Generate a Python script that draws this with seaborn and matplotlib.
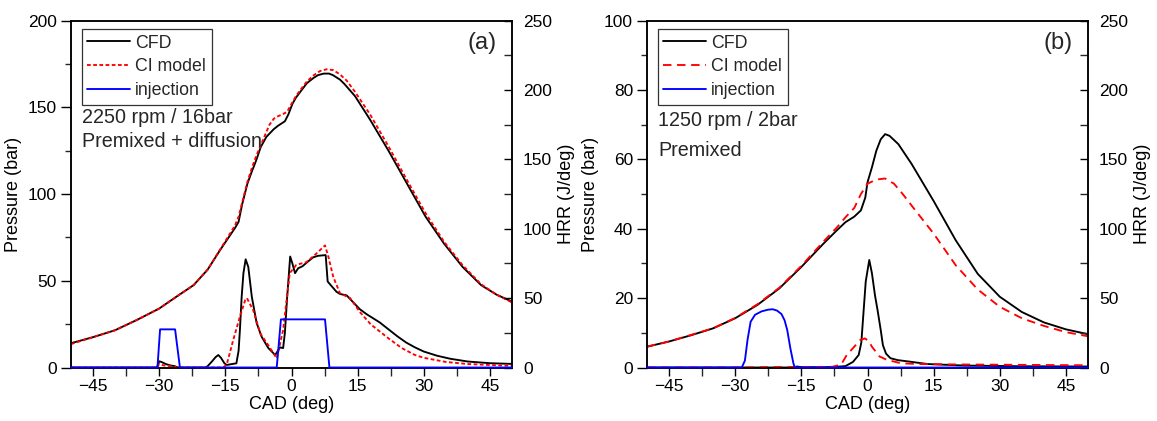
import matplotlib
matplotlib.use("Agg")
import matplotlib.pyplot as plt
import seaborn as sns
from matplotlib.ticker import MultipleLocator
from matplotlib.lines import Line2D

# ---------------- data: panel (a) 2250 rpm / 16 bar ----------------
a_p_cfd_x = [-50, -45, -40, -35, -30, -26, -22.2, -19, -16.2, -14, -12.8, -12, -11.2, -10, -9, -8, -7, -5.7,
             -4, -3, -1.5, -0.7, 0.2, 1, 2, 3.5, 5, 6, 7.3, 8.5, 9.4, 11, 12, 14.4, 17.8, 22, 26.2, 30.4,
             34.6, 38.8, 43, 46.5, 50]
a_p_cfd_y = [14, 17.5, 21.5, 27.5, 34, 41, 47.5, 56.5, 67.7, 76, 80.5, 84, 94, 106, 113, 119.5, 127, 133,
             137.5, 139.5, 142, 146, 152, 155.6, 159, 164, 167, 168.6, 169.5, 169.5, 168.6, 166, 163.5, 156.5,
             143, 125, 106, 87, 71.4, 58, 47.5, 42, 38]
a_p_ci_x = [-50, -45, -40, -35, -30, -26, -22.2, -19, -16.2, -14, -12.8, -12, -11, -10, -9, -8, -7, -6, -5,
            -4, -3, -2, -1, 0, 1, 2, 3.5, 5, 6.5, 8, 9.5, 11, 12.5, 14.4, 17.8, 22, 26.2, 30.4, 34.6, 38.8,
            43, 46.5, 50]
a_p_ci_y = [13.5, 17.5, 21.5, 27.5, 34, 41, 47.5, 56.5, 68, 77, 82, 87, 97, 107, 115, 122, 128, 134, 140,
            143.5, 145, 146, 147.5, 152, 156.5, 160, 165, 168.5, 171, 172, 171.5, 169, 165.5, 159, 146,
            127.5, 108, 89, 72.5, 59, 48, 42, 37.5]
a_h_cfd_x = [-50, -30.5, -30, -29.5, -28.5, -27.5, -26.5, -26, -25.5, -19.5, -19, -18, -17.2, -16.6, -16,
             -15.2, -14.7, -13.5, -12.5, -12, -11.7, -11.3, -10.9, -10.4, -9.8, -9, -7.9, -6.75, -5.25,
             -3.7, -2.6, -1.9, -1.5, -1, -0.3, 0.2, 0.8, 1.5, 2.5, 3.4, 4.9, 6, 7.6, 7.75, 8.2, 9, 10.2,
             11, 12.5, 14, 15.5, 17, 18.5, 20, 22, 24, 26, 28, 30, 33, 36, 40, 45, 50]
a_h_cfd_y = [0, 0, 4.5, 4, 2.5, 1.5, 1, 0.3, 0, 0, 1, 4.5, 7.5, 9, 7, 3, 1.8, 2.5, 3, 12, 27, 51, 68, 78,
             72.5, 51, 32, 22, 14, 9, 14.5, 14, 25, 50, 80, 75, 68, 71.5, 73, 75.5, 79.4, 80.5, 81, 81, 62,
             59, 54.6, 53, 52, 47, 42, 38.5, 35.5, 32.5, 27.5, 22.5, 18, 14.5, 11.5, 8.5, 6.3, 4.3, 3.1, 2.6]
a_h_ci_x = [-50, -30.5, -30, -29, -27.5, -26.5, -26, -15.5, -14.7, -13.2, -11.7, -10.5, -10.1, -8.65, -7.1,
            -5.25, -3.35, -1.9, -0.4, 1.1, 3.4, 5.6, 7.6, 8.35, 9.5, 11, 13.3, 15.5, 18, 20, 22, 25, 28,
            30, 35, 40, 45, 50]
a_h_ci_y = [0, 0, 2.5, 1.5, 1, 0.5, 0, 0, 2, 20, 36.6, 48.6, 50, 41, 24.6, 16, 6.6, 27, 68, 74, 76, 82, 88,
            80, 65, 53.5, 50, 40, 31, 26, 21, 14, 9, 7, 4, 2.5, 1.8, 1.2]
a_inj_x = [-50, -30.4, -29.8, -26.4, -25.3, -3.35, -2.4, 7.6, 8.6, 50]
a_inj_y = [0, 0, 27.5, 27.5, 0, 0, 34.7, 34.7, 0, 0]

# ---------------- data: panel (b) 1250 rpm / 2 bar ----------------
b_p_cfd_x = [-50, -45, -40, -35, -30, -25, -20, -15, -10, -7, -5, -3, -1.5, -0.5, 0, 1, 2, 3, 4, 5, 7, 10,
             15, 20, 25, 30, 35, 40, 45, 50]
b_p_cfd_y = [6, 7.5, 9.3, 11.3, 14.2, 18, 22.8, 29, 35.7, 39.5, 41.9, 43.5, 45.3, 49, 53.4, 57.7, 62.5,
             65.8, 67.3, 66.8, 64.4, 58.7, 48, 36.7, 27, 20.4, 16, 13, 11, 9.6]
b_p_ci_x = [-50, -45, -40, -35, -30, -25, -20, -15, -10, -7, -5, -3, -1.5, 0, 2, 4, 6, 8, 10, 15, 20, 25,
            30, 35, 40, 45, 50]
b_p_ci_y = [6, 7.5, 9.4, 11.3, 14.3, 18.2, 23, 29.3, 36.3, 40.3, 43.3, 46, 50, 53, 54.2, 54.5, 53, 50,
            46.7, 38.6, 29.5, 22.5, 17.5, 14.2, 12, 10.2, 9]
b_h_cfd_x = [-50, -17, -16, -15, -10, -7, -5, -3.3, -2, -1.4, -0.9, -0.4, 0.4, 1, 1.7, 2.3, 3, 3.5, 4.2,
             5.2, 6.9, 9.4, 13.6, 22, 35, 50]
b_h_cfd_y = [0, 0, 0.7, 0.3, 0.2, 0.5, 1, 4, 9, 18, 40, 62, 77.5, 68, 52, 41, 27, 16, 10, 6.7, 5.3, 4.3,
             2.5, 1.4, 0.9, 0.7]
b_h_ci_x = [-50, -28, -22, -15, -8, -6, -4.7, -3, -1.7, -0.6, 0.3, 1, 2.7, 4.4, 7.7, 12, 20, 30, 40, 50]
b_h_ci_y = [0, 0, 0.3, 0.3, 0.5, 2, 9, 15, 19.7, 21, 19, 15, 8, 5.5, 3, 2.5, 2.2, 2, 1.8, 1.6]
b_inj_x = [-50, -28.5, -27.8, -27.2, -26.5, -25.5, -24, -22.5, -21.5, -20.5, -19.5, -18.8, -18.2, -17.5,
           -16.8, -16.5, 50]
b_inj_y = [0, 0, 5, 20, 33, 38, 40.5, 41.7, 42, 41, 38.5, 34, 27, 14, 3, 0, 0]

x_ticks = [-45, -30, -15, 0, 15, 30, 45]
legend_labels = ["CFD", "CI model", "injection"]

# ---------------- style ----------------
sns.set_theme(style="white")
plt.rcParams["font.family"] = ["Liberation Sans", "DejaVu Sans"]
plt.rcParams["axes.edgecolor"] = "black"
plt.rcParams["axes.linewidth"] = 1.1

FS = 12.5
FT = 14.2
fig = plt.figure(figsize=(11.57, 4.21), dpi=100)

W = 441 / 1157
B = (421 - 367.5) / 421
H = (367.5 - 20.7) / 421
panels = [
    dict(left=71 / 1157, ymax=200, ymaj=50, ymin_=25,
         p_cfd=(a_p_cfd_x, a_p_cfd_y), p_ci=(a_p_ci_x, a_p_ci_y),
         h_cfd=(a_h_cfd_x, a_h_cfd_y), h_ci=(a_h_ci_x, a_h_ci_y), inj=(a_inj_x, a_inj_y),
         ci_ls=(0, (2.0, 1.3)), tag="(a)", t1="2250 rpm / 16bar", t2="Premixed + diffusion",
         y1=0.722, y2=0.651),
    dict(left=647 / 1157, ymax=100, ymaj=20, ymin_=10,
         p_cfd=(b_p_cfd_x, b_p_cfd_y), p_ci=(b_p_ci_x, b_p_ci_y),
         h_cfd=(b_h_cfd_x, b_h_cfd_y), h_ci=(b_h_ci_x, b_h_ci_y), inj=(b_inj_x, b_inj_y),
         ci_ls=(0, (4.5, 3.0)), tag="(b)", t1="1250 rpm / 2bar", t2="Premixed",
         y1=0.713, y2=0.625),
]

LW = 1.35
for P in panels:
    ax = fig.add_axes([P["left"], B, W, H])
    ax2 = ax.twinx()
    sns.lineplot(x=P["p_cfd"][0], y=P["p_cfd"][1], ax=ax, color="black", lw=LW, estimator=None, sort=False)
    sns.lineplot(x=P["p_ci"][0], y=P["p_ci"][1], ax=ax, color="#ff0000", lw=LW, linestyle=P["ci_ls"],
                 estimator=None, sort=False)
    sns.lineplot(x=P["h_cfd"][0], y=P["h_cfd"][1], ax=ax2, color="black", lw=LW, estimator=None, sort=False)
    sns.lineplot(x=P["h_ci"][0], y=P["h_ci"][1], ax=ax2, color="#ff0000", lw=LW, linestyle=P["ci_ls"],
                 estimator=None, sort=False)
    sns.lineplot(x=P["inj"][0], y=P["inj"][1], ax=ax2, color="#0000ff", lw=LW, estimator=None, sort=False,
                 clip_on=False, zorder=5)

    ax.set_xlim(-50, 50)
    ax.set_ylim(0, P["ymax"])
    ax2.set_ylim(0, 250)
    ax.set_xticks(x_ticks)
    ax.xaxis.set_minor_locator(MultipleLocator(7.5))
    ax.yaxis.set_major_locator(MultipleLocator(P["ymaj"]))
    ax.yaxis.set_minor_locator(MultipleLocator(P["ymin_"]))
    ax2.yaxis.set_major_locator(MultipleLocator(50))
    ax2.yaxis.set_minor_locator(MultipleLocator(25))

    ax.tick_params(axis="x", which="major", direction="out", length=5.5, width=1.0, labelsize=FS, pad=3,
                   bottom=True, top=False, colors="black")
    ax.tick_params(axis="x", which="minor", direction="out", length=5.5, width=1.0, bottom=True, top=False)
    ax.tick_params(axis="y", which="major", direction="out", length=7, width=1.0, labelsize=FS, pad=3,
                   left=True, right=False, colors="black")
    ax.tick_params(axis="y", which="minor", direction="out", length=4, width=1.0, left=True, right=False)
    ax2.tick_params(axis="y", which="major", direction="in", length=6, width=1.0, labelsize=FS, pad=8,
                    right=True, left=False, colors="black")
    ax2.tick_params(axis="y", which="minor", direction="in", length=6, width=1.0, right=True, left=False)
    for a in (ax, ax2):
        for s in a.spines.values():
            s.set_visible(True)
            s.set_color("black")
            s.set_linewidth(1.1)

    ax.set_xlabel("CAD (deg)", fontsize=FS + 0.5, labelpad=1, color="black")
    ax.set_ylabel("Pressure (bar)", fontsize=FS + 0.5, labelpad=4, color="black")
    ax2.set_ylabel("HRR (J/deg)", fontsize=FS + 0.5, labelpad=4, color="black")

    handles = [Line2D([], [], color="black", lw=LW),
               Line2D([], [], color="#ff0000", lw=LW, linestyle=P["ci_ls"]),
               Line2D([], [], color="#0000ff", lw=LW)]
    leg = ax2.legend(handles, legend_labels, loc="upper left", bbox_to_anchor=(0.025, 0.975),
                     fontsize=FS + 0.3, frameon=True, fancybox=False, edgecolor="#333333", framealpha=1,
                     handlelength=2.4, handletextpad=0.3, labelspacing=0.38, borderpad=0.3,
                     borderaxespad=0.0)
    leg.get_frame().set_linewidth(0.9)

    ax2.text(0.025, P["y1"], P["t1"], transform=ax2.transAxes, fontsize=FT, ha="left", va="center")
    ax2.text(0.025, P["y2"], P["t2"], transform=ax2.transAxes, fontsize=FT, ha="left", va="center")
    ax2.text(0.965, 0.935, P["tag"], transform=ax2.transAxes, fontsize=17, ha="right", va="center")

fig.savefig("out.png", dpi=100, facecolor="white")
